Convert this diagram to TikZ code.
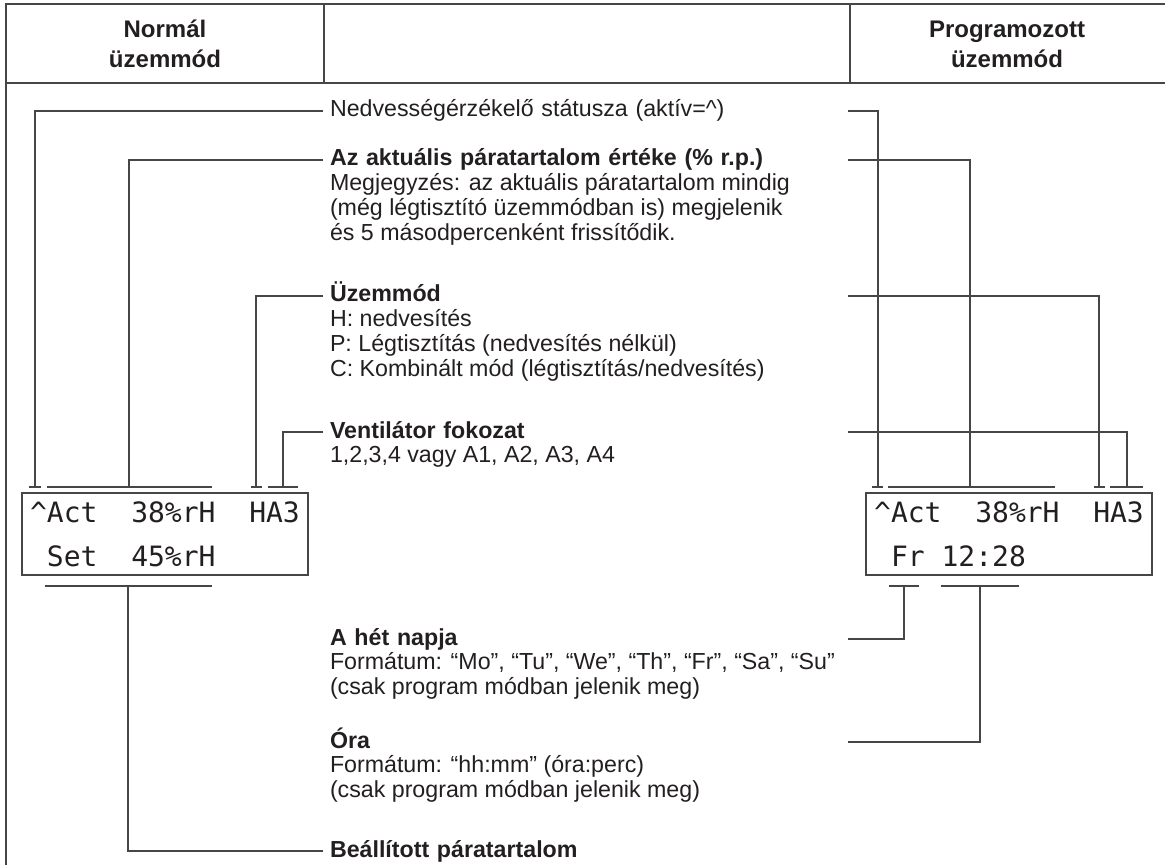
\documentclass[tikz,border=0pt]{standalone}
\usepackage{fontspec}
\setmainfont{Liberation Sans}
\newfontfamily\lcdfont{DejaVu Sans Mono}
\usetikzlibrary{positioning}
\definecolor{ink}{RGB}{35,31,32}
\definecolor{rule}{RGB}{70,70,70}

\begin{document}
\begin{tikzpicture}[x=0.5pt, y=-0.5pt,
  frame/.style={draw=rule, line width=0.7pt},
  wire/.style={draw=rule, line width=0.65pt},
  hdr/.style={font=\fontsize{12}{15}\selectfont\bfseries, align=center, text=ink, inner sep=0pt},
  txt/.style={inner sep=0pt, outer xsep=3.5pt, text height=9pt, text depth=3pt, text=ink, font=\fontsize{11.6}{12}\selectfont, anchor=north west},
  lead/.style={txt, text width=255.5pt, align=left, anchor=west},
  ttl/.style={lead, font=\fontsize{11.6}{12}\selectfont\bfseries},
  lcd/.style={draw=rule, line width=0.65pt, minimum width=143pt, minimum height=41pt, inner sep=0pt, align=left, text=ink, font=\lcdfont\fontsize{14}{22}\selectfont}
]
\useasboundingbox (0,0) rectangle (1165,865);

% table frame
\draw[frame] (1165,4) -- (6,4) -- (6,865);
\draw[frame] (6,83) -- (1165,83);
\draw[frame] (324,4) -- (324,83) (850,4) -- (850,83);
\node[hdr] (hnorm) at (165,44) {Normál\\üzemmód};
\node[hdr] (hprog) at (1007,44) {Programozott\\üzemmód};

% displays
\node[lcd] (lcdn) at (165,534) {\textasciicircum Act~~38\%rH~~HA3\\~Set~~45\%rH};
\node[lcd] (lcdp) at (1009,534) {\textasciicircum Act~~38\%rH~~HA3\\~Fr~12:28};
\foreach \a/\b in {29/41, 47/212, 251/262, 268/298, 872/883, 888/1055, 1094/1105, 1110/1143}
  \draw[wire] (\a,487) -- (\b,487);
\foreach \a/\b in {45/212, 889/919, 941/1019}
  \draw[wire] (\a,586) -- (\b,586);
\coordinate (lt1) at (35,487);
\coordinate (lt2) at (129,487);
\coordinate (lt3) at (256,487);
\coordinate (lt4) at (283,487);
\coordinate (rt1) at (878,487);
\coordinate (rt2) at (970,487);
\coordinate (rt3) at (1099,487);
\coordinate (rt4) at (1127,487);
\coordinate (lb1) at (128,586);
\coordinate (rb1) at (904,586);
\coordinate (rb2) at (980,586);

% labels
\node[lead] (nedv) at (323,111) {Nedvességérzékelő státusza (aktív=\textasciicircum)};
\node[ttl] (akt) at (323,160) {Az aktuális páratartalom értéke (\% r.p.)};
\node[txt] (akt1) at (akt.south west) {Megjegyzés: az aktuális páratartalom mindig};
\node[txt] (akt2) at (akt1.south west) {(még légtisztító üzemmódban is) megjelenik};
\node[txt] (akt3) at (akt2.south west) {és 5 másodpercenként frissítődik.};
\node[ttl] (uzem) at (323,296) {Üzemmód};
\node[txt] (uzem1) at (uzem.south west) {H: nedvesítés};
\node[txt] (uzem2) at (uzem1.south west) {P: Légtisztítás (nedvesítés nélkül)};
\node[txt] (uzem3) at (uzem2.south west) {C: Kombinált mód (légtisztítás/nedvesítés)};
\node[ttl] (vent) at (323,432) {Ventilátor fokozat};
\node[txt] (vent1) at (vent.south west) {1,2,3,4 vagy A1, A2, A3, A4};
\node[ttl] (het) at (323,639) {A hét napja};
\node[txt] (het1) at (het.south west) {Formátum: “Mo”, “Tu”, “We”, “Th”, “Fr”, “Sa”, “Su”};
\node[txt] (het2) at (het1.south west) {(csak program módban jelenik meg)};
\node[ttl] (ora) at (323,742) {Óra};
\node[txt] (ora1) at (ora.south west) {Formátum: “hh:mm” (óra:perc)};
\node[txt] (ora2) at (ora1.south west) {(csak program módban jelenik meg)};
\node[ttl] (beall) at (323,851) {Beállított páratartalom};

% connectors
\draw[wire] (nedv.west) -| (lt1);
\draw[wire] (akt.west) -| (lt2);
\draw[wire] (uzem.west) -| (lt3);
\draw[wire] (vent.west) -| (lt4);
\draw[wire] (nedv.east) -| (rt1);
\draw[wire] (akt.east) -| (rt2);
\draw[wire] (uzem.east) -| (rt3);
\draw[wire] (vent.east) -| (rt4);
\draw[wire] (het.east) -| (rb1);
\draw[wire] (ora.east) -| (rb2);
\draw[wire] (beall.west) -| (lb1);
\end{tikzpicture}
\end{document}
